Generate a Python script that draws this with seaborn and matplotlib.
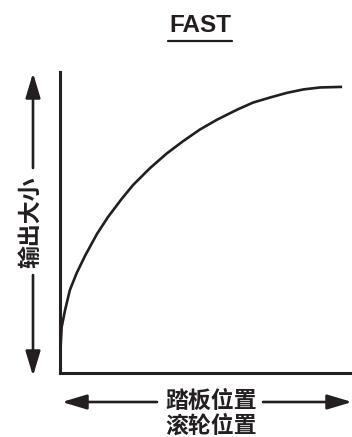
import matplotlib
matplotlib.use("Agg")
import matplotlib.pyplot as plt
from matplotlib.lines import Line2D
import pandas as pd
import seaborn as sns

# curve (x: pedal position, y: output), 0..100
pedal = [0, 0, 0.6, 1.8, 3.5, 5.9, 8.9, 13.1, 17.0, 21.9, 25.9, 31.9,
         37.8, 43.6, 49.6, 55.6, 62.7, 68.4, 74.5, 80.4, 86.2, 92.2, 100]
output = [0, 9.8, 16.1, 22.0, 29.0, 34.9, 41.0, 48.6, 54.5, 60.9, 65.7, 71.6,
          76.7, 81.0, 85.1, 88.5, 92.0, 94.5, 96.3, 97.9, 99.1, 99.8, 100]

title = "FAST"
y_label = "输出大小"
x_label_lines = ["踏板位置", "滚轮位置"]

W, H = 352, 437
INK = "#231f20"

sns.set_theme(style="white")
plt.rcParams["font.family"] = ["Noto Sans CJK SC", "DejaVu Sans"]

fig = plt.figure(figsize=(W / 100, H / 100), dpi=100)
ax = fig.add_axes([60 / W, (H - 373) / H, (W - 60) / W, (373 - 72) / H])

df = pd.DataFrame({"pedal": pedal, "output": output})
sns.lineplot(data=df, x="pedal", y="output", ax=ax, color=INK, lw=1.9,
             solid_joinstyle="round", solid_capstyle="butt")

ax.set_xlim(0, 103.5)
ax.set_ylim(0, 105.2)
ax.set_xticks([]); ax.set_yticks([])
ax.set_xlabel(""); ax.set_ylabel("")
for side in ["top", "right"]:
    ax.spines[side].set_visible(False)
for side in ["left", "bottom"]:
    ax.spines[side].set_color(INK)
    ax.spines[side].set_linewidth(2.2)


def px(x, y):
    # pixel coords (top-left origin) -> figure fraction
    return (x / W, 1 - y / H)


def arrow(start, tip):
    ax.annotate("", xy=px(*tip), xytext=px(*start),
                xycoords="figure fraction", textcoords="figure fraction",
                arrowprops=dict(arrowstyle="-|>,head_length=1.5,head_width=0.45",
                                mutation_scale=10, lw=1.9, color=INK,
                                shrinkA=0, shrinkB=0))


# title with underline
fig.text(200 / W, 1 - 25 / H, title, ha="center", va="center",
         fontsize=17.5, fontweight="bold", family="Liberation Sans", color=INK)
fig.add_artist(Line2D([168 / W, 232 / W], [1 - 41 / H] * 2, lw=1.6, color=INK))

# vertical axis arrow + label
arrow((33, 168), (33, 73))
arrow((33, 275), (33, 376))
fig.text(31 / W, 1 - 222 / H, y_label, rotation=90, ha="center", va="center",
         fontsize=16.5, fontweight="bold", color=INK)

# horizontal axis arrow + label
arrow((157, 402), (62, 402))
arrow((263, 402), (352, 402))
for text, yy in zip(x_label_lines, [401, 426]):
    fig.text(211 / W, 1 - yy / H, text, ha="center", va="center",
             fontsize=16.5, fontweight="bold", color=INK)

fig.savefig("out.png", dpi=100)
